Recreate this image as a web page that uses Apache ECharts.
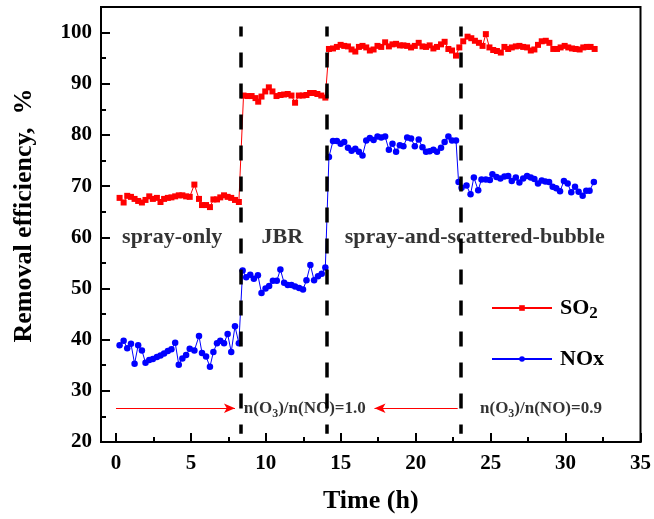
<!DOCTYPE html>
<html>
<head>
<meta charset="utf-8">
<script src="https://cdn.jsdelivr.net/npm/echarts@6.0.0/dist/echarts.min.js"></script>
<style>
  html, body { margin: 0; padding: 0; background: #fff; }
  #chart { width: 654px; height: 519px; }
</style>
</head>
<body>
<div id="chart"></div>
<script>
// Sampling times (h) and removal efficiencies (%)
const so2Time = [
  0.24, 0.51, 0.75, 1.00, 1.24, 1.48, 1.73, 1.97, 2.22, 2.46, 2.73, 2.97, 3.21, 3.46, 3.70, 3.95,
  4.19, 4.43, 4.68, 4.92, 5.23, 5.54, 5.74, 6.01, 6.27, 6.50, 6.74, 6.96, 7.21, 7.45, 7.69, 7.94, 8.20,
  8.51, 8.78, 9.05, 9.31, 9.49, 9.71, 9.96, 10.20, 10.44, 10.71, 10.98, 11.22, 11.46, 11.71, 11.95,
  12.20, 12.46, 12.71, 12.95, 13.19, 13.44, 13.70, 13.97,
  14.21, 14.48, 14.74, 14.99, 15.23, 15.48, 15.72, 15.97, 16.21, 16.45, 16.70, 16.94, 17.19, 17.45,
  17.70, 17.96, 18.21, 18.45, 18.69, 18.94, 19.18, 19.43, 19.69, 19.94, 20.20, 20.45, 20.69, 20.93,
  21.18, 21.42, 21.69, 21.93, 22.18, 22.42, 22.69,
  22.91, 23.17, 23.46, 23.71, 23.95, 24.22, 24.46, 24.68, 24.92, 25.17, 25.42, 25.68, 25.92, 26.17,
  26.41, 26.68, 26.92, 27.17, 27.43, 27.68, 27.92, 28.16, 28.41, 28.68, 28.92, 29.18, 29.43, 29.67,
  29.94, 30.18, 30.43, 30.67, 30.94, 31.18, 31.42, 31.67, 31.94
];
const so2Removal = [
  67.7, 66.8, 68.1, 67.9, 67.5, 67.1, 66.8, 67.3, 68.0, 67.5, 67.7, 66.9, 67.5, 67.7, 67.8, 68.0,
  68.2, 68.2, 68.0, 67.9, 70.3, 67.5, 66.3, 66.3, 65.9, 67.4, 67.4, 67.8, 68.2, 67.9, 67.7, 67.3, 66.9,
  87.7, 87.6, 87.6, 87.2, 86.5, 87.5, 88.5, 89.3, 88.5, 87.6, 87.8, 87.9, 88.0, 87.7, 86.3,
  87.7, 87.7, 87.8, 88.2, 88.2, 88.0, 87.7, 87.3,
  96.8, 96.9, 97.2, 97.6, 97.4, 97.3, 96.7, 96.3, 97.2, 97.4, 97.1, 96.5, 96.7, 97.4,
  97.2, 98.1, 97.3, 97.7, 97.8, 97.5, 97.5, 97.4, 97.1, 97.4, 98.0, 97.3, 97.2, 97.5,
  96.9, 97.2, 97.7, 98.2, 96.8, 96.5, 95.5,
  97.1, 98.3, 99.2, 98.9, 98.4, 98.0, 97.4, 99.7, 97.1, 96.6, 96.4, 96.1, 97.2, 96.8,
  97.1, 97.3, 97.4, 97.2, 97.1, 96.5, 96.7, 97.6, 98.3, 98.4, 98.0, 96.8, 96.8, 97.1,
  97.4, 97.1, 96.9, 96.8, 96.7, 97.1, 97.2, 97.2, 96.8
];
const noxTime = [
  0.24, 0.51, 0.75, 1.00, 1.24, 1.48, 1.73, 1.97, 2.22, 2.46, 2.73, 2.97, 3.21, 3.46, 3.70, 3.95,
  4.19, 4.43, 4.68, 4.92, 5.23, 5.54, 5.74, 6.01, 6.27, 6.50, 6.74, 6.96, 7.21, 7.45, 7.69, 7.94, 8.20,
  8.45, 8.69, 8.96, 9.20, 9.47, 9.71, 9.98, 10.22, 10.47, 10.73, 10.97, 11.22, 11.46, 11.71, 11.95,
  12.22, 12.48, 12.71, 12.97, 13.22, 13.48, 13.73, 13.97,
  14.21, 14.48, 14.74, 14.99, 15.23, 15.48, 15.72, 15.97, 16.21, 16.45, 16.70, 16.94, 17.19, 17.45,
  17.70, 17.96, 18.21, 18.45, 18.69, 18.94, 19.18, 19.43, 19.69, 19.94, 20.20, 20.45, 20.69, 20.93,
  21.18, 21.42, 21.69, 21.93, 22.18, 22.42, 22.69,
  22.86, 23.06, 23.39, 23.66, 23.88, 24.17, 24.39, 24.68, 24.95, 25.12, 25.39, 25.65, 25.92, 26.17,
  26.41, 26.68, 26.92, 27.17, 27.43, 27.68, 27.92, 28.16, 28.41, 28.65, 28.90, 29.14, 29.38, 29.63,
  29.89, 30.14, 30.38, 30.63, 30.87, 31.14, 31.38, 31.60, 31.89
];
const noxRemoval = [
  38.9, 39.8, 38.3, 39.2, 35.3, 38.9, 37.9, 35.5, 36.0, 36.2, 36.6, 36.9, 37.3, 37.8, 38.1, 39.4,
  35.1, 36.3, 37.0, 38.2, 37.9, 40.7, 37.4, 36.7, 34.7, 37.6, 39.3, 39.8, 39.3, 41.1, 37.6, 42.6, 39.3,
  53.5, 52.2, 52.7, 51.9, 52.6, 49.1, 50.0, 50.5, 51.5, 51.5, 53.7, 51.1, 50.7, 50.7, 50.4,
  50.1, 49.8, 51.6, 54.6, 51.6, 52.4, 52.9, 54.1,
  75.7, 78.8, 78.8, 78.3, 78.6, 77.5, 76.9, 77.3, 76.7, 76.0, 78.9, 79.4, 79.0, 79.7,
  79.5, 79.7, 77.1, 78.3, 76.7, 78.0, 77.8, 79.5, 79.3, 77.8, 79.1, 77.6, 76.7, 76.8,
  77.1, 76.7, 77.5, 78.6, 79.7, 78.9, 78.9,
  70.8, 69.7, 70.1, 68.4, 71.7, 69.2, 71.3, 71.3, 71.2, 72.3, 71.8, 71.5, 71.9, 72.0,
  71.0, 71.7, 70.7, 71.5, 72.0, 71.7, 71.4, 70.5, 71.1, 70.9, 70.8, 69.9, 69.6, 69.0,
  71.0, 70.5, 68.8, 69.9, 68.9, 68.1, 69.1, 69.1, 70.8
];

// Operating-mode switch times (h)
const switchTimes = [8.3, 14.05, 23.0];

// Tick positions
const xMajorTicks = [0, 5, 10, 15, 20, 25, 30, 35];
const xMinorTicks = [2.5, 7.5, 12.5, 17.5, 22.5, 27.5, 32.5];
const yMajorTicks = [20, 30, 40, 50, 60, 70, 80, 90, 100];
const yMinorTicks = [25, 35, 45, 55, 65, 75, 85, 95];

// Region labels and ozone ratio notes
const stageNames = ['spray-only', 'JBR', 'spray-and-scattered-bubble'];
const stageCenters = [3.75, 11.1, 23.94];
const ratioTexts = ['{t|n(O}{s|3}{t|)/n(NO)=1.0}', '{t|n(O}{s|3}{t|)/n(NO)=0.9}'];
const ratioCenters = [12.6, 28.36];

const serif = "'Liberation Serif', 'Times New Roman', Times, serif";
const black = '#000';
const red = '#ff0000';
const blue = '#0000ff';

const pairs = (xs, ys) => xs.map((x, i) => [x, ys[i]]);

const xMin = -1, xMax = 35, yMin = 20, yMax = 105;
const stageLevel = 60;
const arrowLevel = 26.6;
const guideTop = 101.2;
const guideBottom = 21.6;

// Plot box (px)
const W = 654, H = 519;
const gridBox = { left: 101, right: 12, top: 7, bottom: 76 };
const pxPerHour = (W - gridBox.left - gridBox.right) / (xMax - xMin);
const pxPerPercent = (H - gridBox.top - gridBox.bottom) / (yMax - yMin);

// Inward tick segments, expressed in axis units
const majorLen = 9, minorLen = 5;
const timeTick = (t, len) => [{ coord: [t, yMin] }, { coord: [t, yMin + len / pxPerPercent] }];
const effTick = (v, len) => [{ coord: [xMin, v] }, { coord: [xMin + len / pxPerHour, v] }];
const tickSegments = [].concat(
  xMajorTicks.map((t) => timeTick(t, majorLen)),
  xMinorTicks.map((t) => timeTick(t, minorLen)),
  yMajorTicks.map((v) => effTick(v, majorLen)),
  yMinorTicks.map((v) => effTick(v, minorLen))
);

const boldText = (size) => ({ color: black, fontFamily: serif, fontWeight: 'bold', fontSize: size });

const chart = echarts.init(document.getElementById('chart'), null, { renderer: 'canvas' });

const option = {
  animation: false,
  backgroundColor: '#fff',
  grid: Object.assign({ show: true, borderColor: black, borderWidth: 2 }, gridBox),
  xAxis: {
    type: 'value', min: xMin, max: xMax,
    axisLine: { show: true, onZero: false, lineStyle: { color: black, width: 2 } },
    axisTick: { show: false },
    axisLabel: Object.assign({ customValues: xMajorTicks, margin: 11 }, boldText(21)),
    splitLine: { show: false },
    name: 'Time (h)', nameLocation: 'middle', nameGap: 46,
    nameTextStyle: boldText(26)
  },
  yAxis: {
    type: 'value', min: yMin, max: yMax,
    axisLine: { show: true, onZero: false, lineStyle: { color: black, width: 2 } },
    axisTick: { show: false },
    axisLabel: Object.assign({ customValues: yMajorTicks, margin: 9 }, boldText(21)),
    splitLine: { show: false },
    name: 'Removal efficiency,  %', nameLocation: 'middle', nameGap: 64,
    nameTextStyle: Object.assign({ padding: [0, 0, 0, 18] }, boldText(26))
  },
  legend: {
    orient: 'vertical',
    left: 491, top: 297, padding: 0,
    itemWidth: 60, itemHeight: 7, itemGap: 26,
    data: ['SO2', 'NOx'],
    formatter: (name) => name === 'SO2' ? '{t|SO}{s|2}' : '{t|NOx}',
    textStyle: {
      color: black, fontFamily: serif, fontWeight: 'bold', fontSize: 22,
      rich: {
        t: { color: black, fontFamily: serif, fontWeight: 'bold', fontSize: 22, lineHeight: 28, padding: [0, 0, 0, 3] },
        s: { color: black, fontFamily: serif, fontWeight: 'bold', fontSize: 17, lineHeight: 17, verticalAlign: 'bottom' }
      }
    }
  },
  series: [
    {
      name: 'SO2', type: 'line',
      data: pairs(so2Time, so2Removal),
      symbol: 'rect', symbolSize: 6,
      itemStyle: { color: red },
      lineStyle: { color: red, width: 1 },
      z: 3
    },
    {
      name: 'NOx', type: 'line',
      data: pairs(noxTime, noxRemoval),
      symbol: 'circle', symbolSize: 6.5,
      itemStyle: { color: blue },
      lineStyle: { color: blue, width: 1 },
      z: 3
    },
    {
      name: 'guides', type: 'line', data: [],
      markLine: {
        silent: true, symbol: ['none', 'none'], label: { show: false },
        lineStyle: { color: black, width: 3.5, type: [15, 16], dashOffset: 5 },
        data: switchTimes.map((t) => [{ coord: [t, guideTop] }, { coord: [t, guideBottom] }])
      },
      z: 2
    },
    {
      name: 'ratio arrows', type: 'line', data: [],
      markLine: {
        silent: true, symbol: ['none', 'arrow'], symbolSize: [7, 11], label: { show: false },
        lineStyle: { color: red, width: 1.2, type: 'solid' },
        itemStyle: { color: red },
        data: [
          [{ coord: [0, arrowLevel] }, { coord: [7.94, arrowLevel] }],
          [{ coord: [22.8, arrowLevel] }, { coord: [17.25, arrowLevel] }]
        ]
      },
      z: 2
    },
    {
      name: 'axis ticks', type: 'line', data: [], clip: false,
      markLine: {
        silent: true, symbol: ['none', 'none'], label: { show: false },
        lineStyle: { color: black, width: 2, type: 'solid' },
        data: tickSegments
      },
      z: 5
    },
    {
      name: 'stages', type: 'scatter',
      data: stageNames.map((n, i) => ({ name: n, value: [stageCenters[i], stageLevel] })),
      symbolSize: 0,
      label: Object.assign({ show: true, position: 'inside', formatter: '{b}' }, boldText(22)),
      silent: true, z: 4
    },
    {
      name: 'ratios', type: 'scatter',
      data: ratioTexts.map((n, i) => ({ name: n, value: [ratioCenters[i], arrowLevel] })),
      symbolSize: 0,
      label: {
        show: true, position: 'inside', formatter: '{b}',
        rich: {
          t: { color: black, fontFamily: serif, fontWeight: 'bold', fontSize: 17, lineHeight: 24 },
          s: { color: black, fontFamily: serif, fontWeight: 'bold', fontSize: 12, lineHeight: 12, verticalAlign: 'bottom' }
        }
      },
      silent: true, z: 4
    }
  ]
};

chart.setOption(option);
</script>
</body>
</html>
